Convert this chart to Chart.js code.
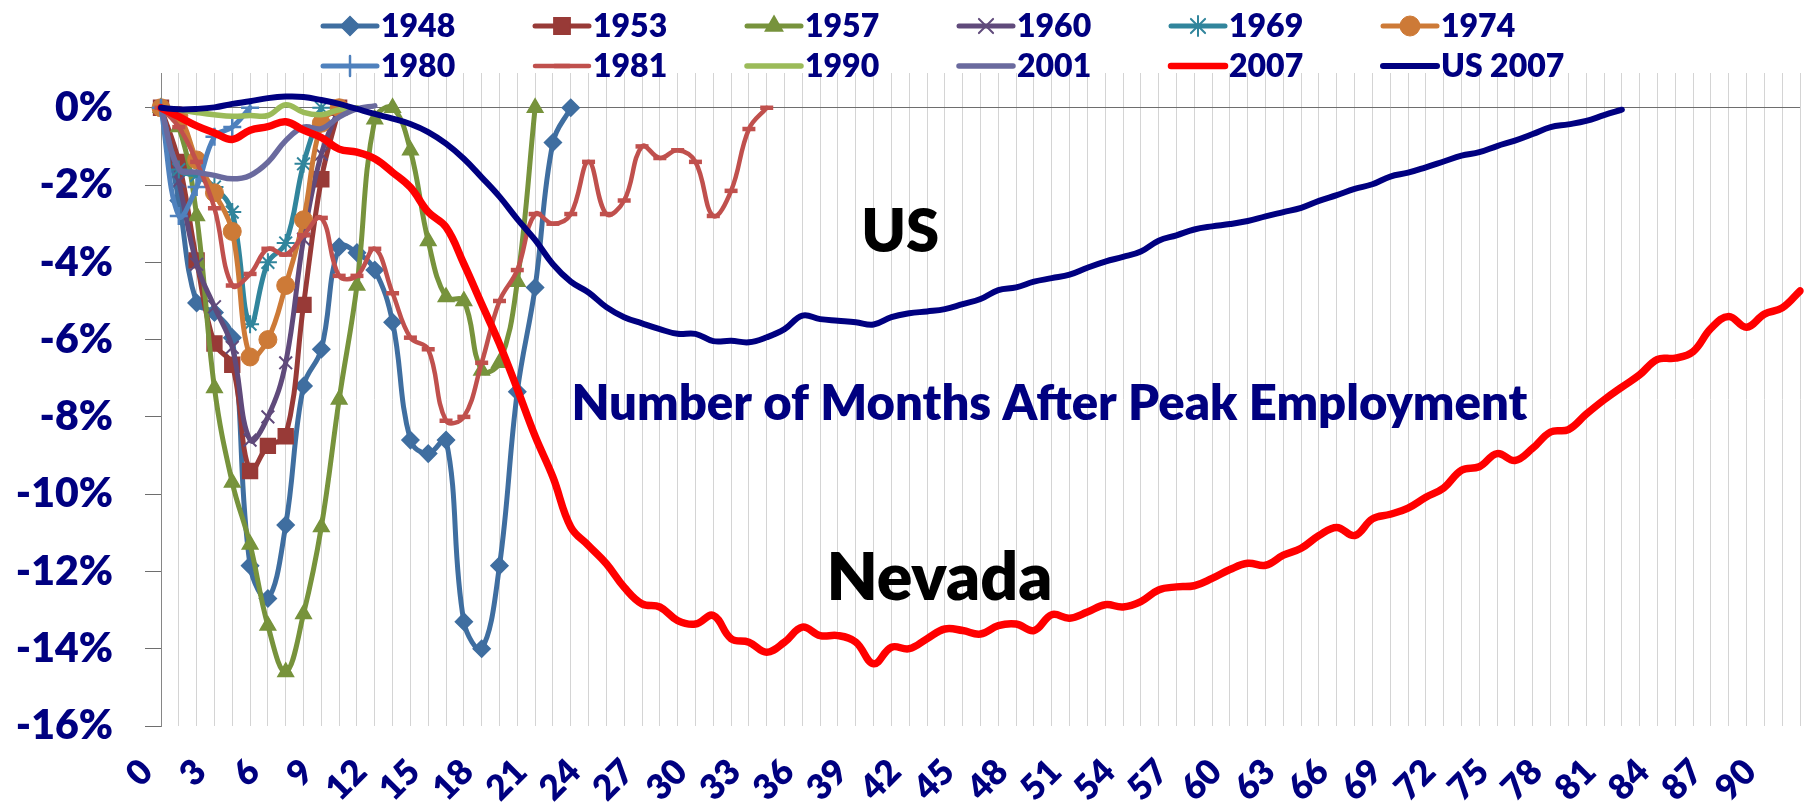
<!DOCTYPE html>
<html>
<head>
<meta charset="utf-8">
<script src="https://cdn.jsdelivr.net/npm/chart.js@4.4.1/dist/chart.umd.min.js"></script>
<style>
  html, body { margin: 0; padding: 0; background: #ffffff; overflow: hidden; }
  #wrap { position: relative; width: 1812px; height: 807px; }
</style>
</head>
<body>
<div id="wrap"><canvas id="empChart"></canvas></div>
<script>
// months after peak employment (x categories)
var months = Array.from({ length: 93 }, function (_, i) { return i; });
var xTickMonths = [0, 3, 6, 9, 12, 15, 18, 21, 24, 27, 30, 33, 36, 39, 42, 45, 48, 51, 54, 57, 60, 63, 66, 69, 72, 75, 78, 81, 84, 87, 90];
var yTicks = [-16, -14, -12, -10, -8, -6, -4, -2, 0];

// percent change from peak, Nevada recessions
var nv1948 = [0, -2.4, -5.05, -5.3, -5.95, -11.85, -12.7, -10.8, -7.2, -6.25, -3.6, -3.75, -4.2, -5.55, -8.6, -8.95, -8.6, -13.3, -14.0, -11.85, -7.35, -4.65, -0.9, 0];
var nv1953 = [0, -1.4, -3.95, -6.1, -6.65, -9.4, -8.75, -8.5, -5.1, -1.85, 0];
var nv1957 = [0, -0.5, -2.8, -7.25, -9.7, -11.3, -13.4, -14.6, -13.1, -10.85, -7.55, -4.6, -0.3, 0, -1.1, -3.45, -4.9, -5.0, -6.8, -6.6, -4.5, 0];
var nv1960 = [0, -1.9, -4.05, -5.15, -6.2, -8.6, -8.0, -6.6, -3.4, -1.2, 0];
var nv1969 = [0, -1.6, -1.75, -2.05, -2.7, -5.6, -4.0, -3.5, -1.45, 0];
var nv1974 = [0, -0.2, -1.35, -2.2, -3.2, -6.45, -6.0, -4.6, -2.9, -0.4, 0];
var nv1980 = [0, -2.8, -2.05, -0.75, -0.5, 0];
var nv1981 = [0, -0.5, -1.4, -2.6, -4.6, -4.3, -3.65, -3.8, -3.3, -2.85, -4.35, -4.35, -3.65, -4.8, -5.95, -6.25, -8.1, -8.0, -6.6, -5.0, -4.2, -2.75, -3.0, -2.75, -1.4, -2.75, -2.4, -1.0, -1.3, -1.1, -1.4, -2.8, -2.15, -0.55, 0];
var nv1990 = [0, -0.05, -0.12, -0.18, -0.22, -0.2, -0.2, 0.08, -0.12, -0.18, -0.05, 0];
var nv2001 = [0, -1.58, -1.67, -1.75, -1.84, -1.75, -1.41, -0.85, -0.5, -0.54, -0.24, -0.03, 0.05];
var nv2007 = [0, -0.23, -0.47, -0.65, -0.82, -0.58, -0.49, -0.36, -0.58, -0.77,
  -1.07, -1.15, -1.32, -1.67, -2.06, -2.7, -3.09, -4.04, -5.08, -6.11,
  -7.28, -8.5, -9.56, -10.85, -11.33, -11.8, -12.41, -12.84, -12.92, -13.27,
  -13.36, -13.14, -13.74, -13.83, -14.09, -13.83, -13.44, -13.66, -13.66, -13.83,
  -14.39, -13.96, -14.0, -13.74, -13.49, -13.53, -13.62, -13.4, -13.36, -13.53,
  -13.12, -13.21, -13.05, -12.86, -12.92, -12.78, -12.48, -12.4, -12.37, -12.18,
  -11.95, -11.79, -11.84, -11.58, -11.4, -11.07, -10.86, -11.07, -10.64, -10.52,
  -10.36, -10.08, -9.84, -9.38, -9.29, -8.95, -9.13, -8.81, -8.39, -8.33,
  -7.93, -7.56, -7.23, -6.91, -6.51, -6.48, -6.31, -5.71, -5.4, -5.68,
  -5.34, -5.18, -4.74];
var us2007 = [0, -0.04, -0.03, 0.01, 0.1, 0.17, 0.25, 0.29, 0.28, 0.2,
  0.1, -0.03, -0.16, -0.28, -0.42, -0.63, -0.93, -1.32, -1.8, -2.3,
  -2.88, -3.42, -4.05, -4.5, -4.78, -5.16, -5.42, -5.58, -5.73, -5.85,
  -5.85, -6.04, -6.03, -6.07, -5.94, -5.73, -5.38, -5.47, -5.51, -5.55,
  -5.61, -5.42, -5.32, -5.27, -5.21, -5.08, -4.95, -4.72, -4.65, -4.5,
  -4.41, -4.32, -4.14, -3.98, -3.86, -3.72, -3.44, -3.3, -3.15, -3.07,
  -3.01, -2.93, -2.81, -2.7, -2.59, -2.41, -2.26, -2.1, -1.98, -1.78,
  -1.68, -1.54, -1.39, -1.24, -1.15, -0.99, -0.85, -0.68, -0.5, -0.43,
  -0.34, -0.19, -0.05];

var NAVY = '#000080';
var FONT = 'Lato, "Open Sans", sans-serif';
var HEAVY = '800';

function series(label, data, color, width, style, radius, pointWidth) {
    return {
        label: label,
        data: data,
        borderColor: color,
        backgroundColor: color,
        borderWidth: width,
        pointStyle: style || 'circle',
        pointRadius: radius || 0,
        pointBorderWidth: pointWidth || 1,
        pointBackgroundColor: color,
        pointBorderColor: color,
        tension: 0.4,
        borderCapStyle: 'round',
        borderJoinStyle: 'round',
        fill: false
    };
}

var datasets = [
    series('1948', nv1948, '#3F6EA0', 5, 'rectRot', 8.5, 1.5),
    series('1953', nv1953, '#983A37', 5, 'rect', 10.5, 1.5),
    series('1957', nv1957, '#77933C', 5, 'triangle', 9, 1.5),
    series('1960', nv1960, '#604A7B', 5, 'crossRot', 9, 2),
    series('1969', nv1969, '#31859C', 5, 'star', 9, 2),
    series('1974', nv1974, '#CD7A37', 5, 'circle', 9, 1),
    series('1980', nv1980, '#4F81BD', 5, 'cross', 9, 2.5),
    series('1981', nv1981, '#C0504D', 4.5, 'line', 6.5, 4.5),
    series('1990', nv1990, '#9BBB59', 5.5),
    series('2001', nv2001, '#6A6A9E', 5.5),
    series('2007', nv2007, '#FF0000', 7.5),
    series('US 2007', us2007, NAVY, 6)
];
// later series sit on top, as in the spreadsheet
datasets.forEach(function (ds, i) { ds.order = datasets.length - i; });

var notes = [
    { text: 'US', month: 39.3, value: -3.73, width: 78, color: '#000000' },
    { text: 'Nevada', month: 37.35, value: -12.73, width: 226, color: '#000000' },
    { text: 'Number of Months After Peak Employment', month: 23.04, value: -8.09, width: 956, color: NAVY }
];

// two-row legend, columns aligned like the spreadsheet legend
var legendRows = {
    id: 'legendRows',
    afterDraw: function (chart) {
        var ctx = chart.ctx;
        ctx.save();
        ctx.font = HEAVY + ' 32px ' + FONT;
        ctx.textBaseline = 'alphabetic';
        chart.data.datasets.forEach(function (ds, i) {
            var x = 323 + (i % 6) * 212;
            var y = i < 6 ? 26 : 66;
            ctx.strokeStyle = ds.borderColor;
            ctx.fillStyle = ds.borderColor;
            ctx.lineCap = 'round';
            ctx.lineWidth = Math.min(ds.borderWidth, 6.5);
            ctx.beginPath();
            ctx.moveTo(x, y);
            ctx.lineTo(x + 54, y);
            ctx.stroke();
            if (ds.pointRadius > 0 && Chart.helpers && Chart.helpers.drawPoint) {
                ctx.lineWidth = ds.pointBorderWidth;
                Chart.helpers.drawPoint(ctx, {
                    pointStyle: ds.pointStyle,
                    radius: ds.pointRadius + 1,
                    rotation: 0,
                    borderWidth: ds.pointBorderWidth
                }, x + 27, y);
            }
            ctx.fillStyle = NAVY;
            ctx.fillText(ds.label, x + 58, y + 11);
        });
        ctx.restore();
    }
};

var textNotes = {
    id: 'textNotes',
    afterDraw: function (chart) {
        var ctx = chart.ctx;
        var xs = chart.scales.x, ys = chart.scales.y;
        ctx.save();
        ctx.textBaseline = 'alphabetic';
        ctx.textAlign = 'left';
        notes.forEach(function (n) {
            ctx.font = HEAVY + ' 60px ' + FONT;
            var size = 60 * n.width / ctx.measureText(n.text).width;
            ctx.font = HEAVY + ' ' + size.toFixed(1) + 'px ' + FONT;
            ctx.fillStyle = n.color;
            ctx.fillText(n.text, xs.getPixelForValue(n.month), ys.getPixelForValue(n.value));
        });
        ctx.restore();
    }
};

document.addEventListener('DOMContentLoaded', function () {
    Chart.defaults.font.family = FONT;

    new Chart(document.getElementById('empChart'), {
        type: 'line',
        data: { labels: months, datasets: datasets },
        plugins: [legendRows, textNotes],
        options: {
            responsive: true,
            maintainAspectRatio: false,
            animation: false,
            layout: { padding: { top: 73, right: 9, left: 0, bottom: 0 } },
            plugins: { legend: { display: false }, tooltip: { enabled: false } },
            scales: {
                x: {
                    type: 'category',
                    offset: false,
                    border: { display: false },
                    grid: { color: '#D4D4D4', lineWidth: 1, drawTicks: false },
                    ticks: {
                        autoSkip: false,
                        minRotation: 45,
                        maxRotation: 45,
                        padding: 25,
                        labelOffset: -14,
                        color: NAVY,
                        font: { size: 35, weight: HEAVY },
                        callback: function (v, i) {
                            return xTickMonths.indexOf(months[i]) >= 0 ? String(months[i]) : '';
                        }
                    },
                    afterFit: function (s) {
                        s.height = 81;
                        s.paddingLeft = 0;
                        s.paddingRight = 0;
                    }
                },
                y: {
                    min: -16,
                    max: 0.9,
                    border: { display: true, color: '#868686', width: 1 },
                    grid: {
                        color: function (c) { return c.tick && c.tick.value === 0 ? '#6E6E6E' : 'rgba(0,0,0,0)'; },
                        tickColor: '#6E6E6E',
                        tickLength: 16,
                        lineWidth: 1
                    },
                    afterBuildTicks: function (s) {
                        s.ticks = yTicks.map(function (v) { return { value: v }; });
                    },
                    ticks: {
                        padding: 32,
                        color: NAVY,
                        font: { size: 41, weight: HEAVY },
                        callback: function (v) { return v + '%'; }
                    },
                    afterFit: function (s) {
                        s.width = 161;
                        s.paddingTop = 0;
                        s.paddingBottom = 0;
                    }
                }
            }
        }
    });
});
</script>
</body>
</html>
